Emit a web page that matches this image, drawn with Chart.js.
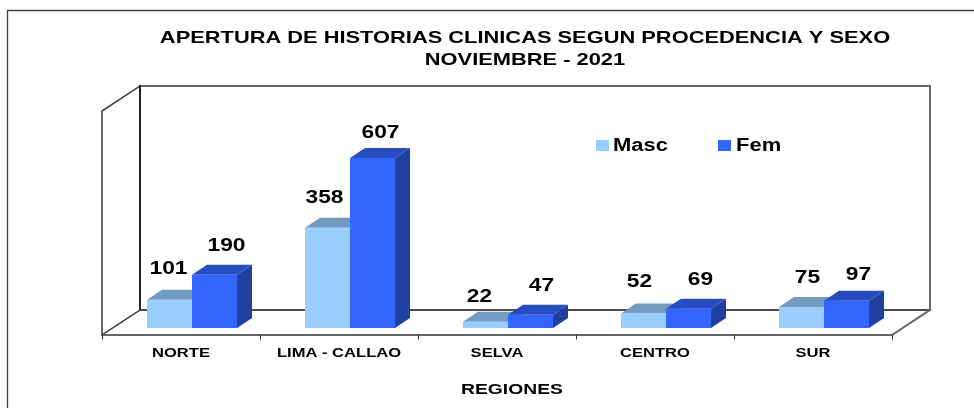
<!DOCTYPE html>
<html><head><meta charset="utf-8">
<style>html,body{margin:0;padding:0;background:#fff}#w{width:974px;height:408px;overflow:hidden}</style>
<script src="https://cdn.jsdelivr.net/npm/chart.js@4"></script>
</head><body><div id="w"><canvas id="c" width="974" height="408"></canvas></div>
<script>
const titleLines = ['APERTURA DE HISTORIAS CLINICAS SEGUN PROCEDENCIA Y SEXO', 'NOVIEMBRE - 2021'];
const categories = ['NORTE', 'LIMA - CALLAO', 'SELVA', 'CENTRO', 'SUR'];
const masc = [101, 358, 22, 52, 75];
const fem = [190, 607, 47, 69, 97];
const axisTitle = 'REGIONES';
const yMax = 800;

// label placement relative to the top-centre of each bar: [dx, dy]
const mascNudge = [[-1,-31],[-3,-30],[-6,-25],[-4,-31],[6,-29]];
const femNudge  = [[12,-29],[8,-25],[11,-29],[12,-29],[12,-26]];

const COL = {
  mascFront:'#99CCFF', mascTop:'#739ABF', mascSide:'#5F86B0',
  femFront:'#3366FF', femTop:'#264CBF', femSide:'#2040A0'
};
const BOLD = '"Liberation Sans"';
// the reference text is horizontally stretched; amount by font size
const STRETCH = {'12px':1.38,'14px':1.38,'17px':1.285,'17.5px':1.3,'18px':1.22};
const DX = 15, DY = -10;         // bar depth
const WX = 38, WY = -25;         // box depth
const BOX_SHIFT = 11, FLOOR_DROP = 7;

function poly(ctx, pts, fill){
  ctx.beginPath(); pts.forEach((p,i)=> i?ctx.lineTo(p[0],p[1]):ctx.moveTo(p[0],p[1]));
  ctx.closePath(); ctx.fillStyle=fill; ctx.fill();
}
function line(ctx, pts, color, w){
  ctx.beginPath(); pts.forEach((p,i)=> i?ctx.lineTo(p[0],p[1]):ctx.moveTo(p[0],p[1]));
  ctx.strokeStyle=color; ctx.lineWidth=w; ctx.stroke();
}

const box3d = {
  id:'box3d',
  afterLayout(chart){
    const t = chart.titleBlock; t.left = 100; t.right = 950;
    const s = chart.scales.x;
    if(!s._shifted){
      const orig = s.drawTitle;
      s.drawTitle = function(){ const c=this.ctx; c.save(); c.translate(4,0); orig.call(this); c.restore(); };
      s._shifted = true;
    }
    const ctx = chart.ctx;
    if(!ctx._stretched){
      const proto = CanvasRenderingContext2D.prototype.fillText;
      ctx.fillText = function(text,x,y){
        const m = this.font.match(/([\d.]+px)/);
        const sx = (m && STRETCH[m[1]]) || 1.3;
        this.save(); this.translate(x,y); this.scale(sx,1);
        proto.call(this,text,0,0);
        this.restore();
      };
      ctx._stretched = true;
    }
  },
  beforeDatasetsDraw(chart){
    const {ctx, scales:{x,y}} = chart;
    const L = x.left-BOX_SHIFT, R = x.right-BOX_SHIFT, B = y.getPixelForValue(0)+FLOOR_DROP, T = y.top+7;
    const step = (x.right-x.left)/categories.length;
    ctx.save();
    ctx.lineCap='square';
    // frame of the picture
    line(ctx,[[7.5,408],[7.5,10.5],[974,10.5]],'#444',1.3);
    // walls
    line(ctx,[[L+WX,B+WY],[R+WX,B+WY]],'#111',1.5);
    line(ctx,[[L+WX,T+WY],[R+WX,T+WY],[R+WX,B+WY]],'#666',2);
    line(ctx,[[L,B],[L,T],[L+WX,T+WY]],'#444',1.6);
    line(ctx,[[L+WX,T+WY],[L+WX,B+WY]],'#222',2);
    line(ctx,[[L,B],[L+WX,B+WY]],'#444',1.6);
    line(ctx,[[L,B],[R,B],[R+WX,B+WY]],'#666',2);
    for(let i=0;i<=categories.length;i++){
      const px=Math.round(L+i*step)+.5;
      line(ctx,[[px,B],[px,B+4]],'#333',1);
    }
    // bar depth faces
    chart.data.datasets.forEach((ds,di)=>{
      const meta = chart.getDatasetMeta(di);
      const top = di?COL.femTop:COL.mascTop, side = di?COL.femSide:COL.mascSide;
      meta.data.forEach(b=>{
        const l=b.x-b.width/2, r=b.x+b.width/2, t=b.y, bt=b.base;
        poly(ctx,[[r,t],[r+DX,t+DY],[r+DX,bt+DY],[r,bt]],side);
        poly(ctx,[[l,t],[l+DX,t+DY],[r+DX,t+DY],[r,t]],top);
      });
    });
    ctx.restore();
  },
  afterDatasetsDraw(chart){
    const {ctx} = chart;
    ctx.save();
    ctx.fillStyle='#000'; ctx.textAlign='center'; ctx.textBaseline='middle';
    ctx.font='bold 17.5px '+BOLD;
    chart.data.datasets.forEach((ds,di)=>{
      const nudge = di?femNudge:mascNudge;
      chart.getDatasetMeta(di).data.forEach((b,i)=>{
        ctx.fillText(String(ds.data[i]), b.x+nudge[i][0], b.y+nudge[i][1]);
      });
    });
    // legend
    const items=[[596,613,'Masc',COL.mascFront],[718,736,'Fem',COL.femFront]];
    ctx.textAlign='left'; ctx.font='bold 18px '+BOLD;
    chart.data.datasets.forEach((ds,di)=>{
      const it=items[di];
      ctx.fillStyle=ds.backgroundColor; ctx.fillRect(it[0],140,13,11);
      ctx.fillStyle='#000'; ctx.fillText(ds.label,it[1],146);
    });
    ctx.restore();
  }
};

new Chart(document.getElementById('c'),{
  type:'bar',
  data:{labels:categories,datasets:[
    {label:'Masc',data:masc,backgroundColor:COL.mascFront,borderWidth:0,barPercentage:1,categoryPercentage:0.57},
    {label:'Fem',data:fem,backgroundColor:COL.femFront,borderWidth:0,barPercentage:1,categoryPercentage:0.57}
  ]},
  options:{
    responsive:false,animation:false,devicePixelRatio:1,
    layout:{padding:{left:113,right:71,top:0,bottom:0}},
    plugins:{
      legend:{display:false},tooltip:{enabled:false},
      title:{display:true,text:titleLines,color:'#000',
        font:{family:BOLD,size:17,weight:'bold',lineHeight:22/17},
        padding:{top:27,bottom:33}}
    },
    scales:{
      x:{
        grid:{display:false,drawTicks:false},border:{display:false},
        ticks:{color:'#000',font:{family:BOLD,size:12,weight:'bold'},padding:18,labelOffset:-BOX_SHIFT,maxRotation:0,autoSkip:false},
        title:{display:true,text:axisTitle,color:'#000',font:{family:BOLD,size:14,weight:'bold'},padding:{top:0,bottom:9}},
        afterFit(s){s.height=80;}
      },
      y:{display:false,min:0,max:yMax}
    }
  },
  plugins:[box3d]
});
</script></body></html>
